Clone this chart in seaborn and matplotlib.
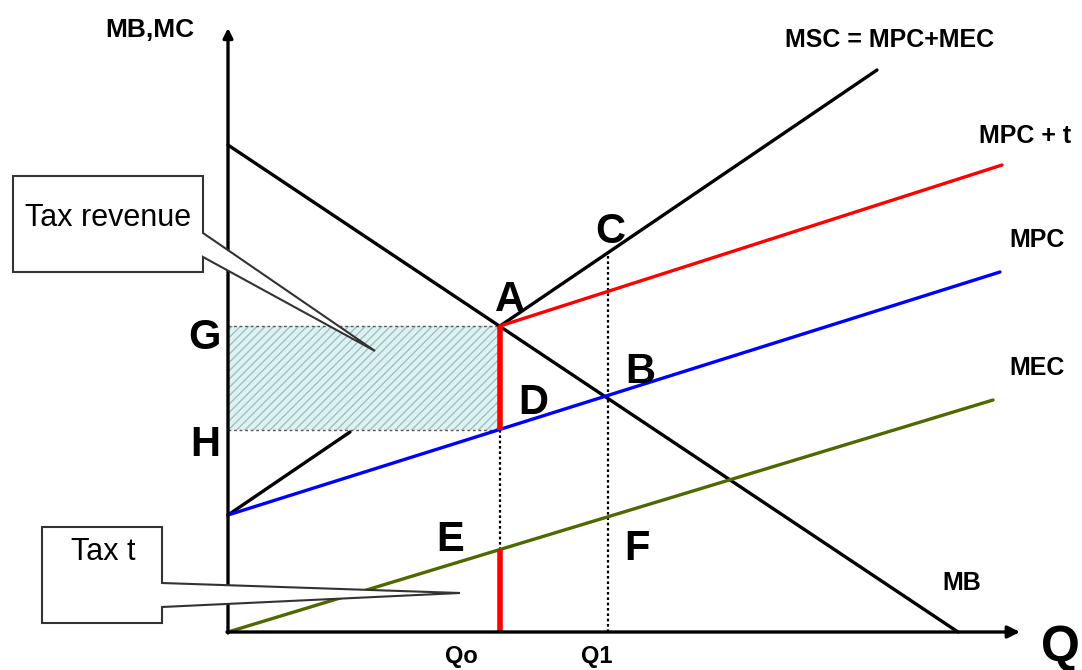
import numpy as np
import pandas as pd
import matplotlib
matplotlib.use('Agg')
import matplotlib.pyplot as plt
from matplotlib.patches import Polygon
import seaborn as sns

# curve end points (units = screen pixels from origin)
mb_q, mb_p = [0, 730], [487, 0]
mpc_q, mpc_p = [0, 772], [117, 360]
mec_q, mec_p = [0, 765], [0, 232]
msc_q, msc_p = [272, 649], [306, 562]
mpct_q, mpct_p = [272, 774], [306, 467]
taxline_q, taxline_p = [0, 122], [117, 200]

q0, q1 = 272, 380
p_G, p_H = 306, 202          # A and D heights
p_E = 83
p_C = 378

point_labels = ['A', 'B', 'C', 'D', 'E', 'F', 'G', 'H']
point_q = [282, 412, 382, 305, 222, 409, -23, -23]
point_p = [332, 260, 400, 229, 92, 83, 294, 187]

curve_labels = ['MSC = MPC+MEC', 'MPC + t', 'MPC', 'MEC', 'MB']
curve_lab_q = [662, 797, 809, 809, 734]
curve_lab_p = [592, 496, 392, 264, 49]

sns.set_style('white')
plt.rcParams['font.family'] = ['Liberation Sans', 'DejaVu Sans']
plt.rcParams['text.color'] = 'black'

fig = plt.figure(figsize=(10.82, 6.70), dpi=100)
ax = fig.add_axes([0, 0, 1, 1])
ax.set_xlim(-228, 854)
ax.set_ylim(-38, 632)
ax.axis('off')

lines = pd.concat([
    pd.DataFrame({'q': mb_q, 'p': mb_p, 'curve': 'MB'}),
    pd.DataFrame({'q': msc_q, 'p': msc_p, 'curve': 'MSC'}),
    pd.DataFrame({'q': taxline_q, 'p': taxline_p, 'curve': 'tax'}),
    pd.DataFrame({'q': mpc_q, 'p': mpc_p, 'curve': 'MPC'}),
    pd.DataFrame({'q': mpct_q, 'p': mpct_p, 'curve': 'MPC+t'}),
    pd.DataFrame({'q': mec_q, 'p': mec_p, 'curve': 'MEC'}),
])
pal = {'MB': 'black', 'MSC': 'black', 'tax': 'black', 'MPC': '#0000ff',
       'MPC+t': '#ff0000', 'MEC': '#4d6a00'}

# hatched tax revenue area
ax.fill_between([0, q0], p_H, p_G, facecolor='#dcf3f3', edgecolor='#a8bcbc',
                hatch='////', linewidth=0, zorder=1)

# guide lines
ax.plot([0, q0], [p_G, p_G], ls=(0, (2, 2)), color='#555555', lw=1, zorder=2)
ax.plot([0, q0], [p_H, p_H], ls=(0, (2, 2)), color='#555555', lw=1, zorder=2)
ax.plot([q0, q0], [p_H, p_E], ls=(0, (1.2, 1.2)), color='black', lw=1.6, zorder=2)
ax.plot([q1, q1], [0, p_C], ls=(0, (1.2, 1.2)), color='black', lw=1.6, zorder=2)

sns.lineplot(data=lines, x='q', y='p', hue='curve', palette=pal, units='curve',
             estimator=None, legend=False, linewidth=2.4, ax=ax, zorder=3)

# tax t shown as red vertical bars
ax.plot([q0, q0], [p_H, p_G], color='#ff0000', lw=4, zorder=4, solid_capstyle='butt')
ax.plot([q0, q0], [0, p_E], color='#ff0000', lw=4, zorder=4, solid_capstyle='butt')

# axes with arrows
ax.annotate('', xy=(792, 0), xytext=(-1, 0),
            arrowprops=dict(arrowstyle='-|>', lw=2.4, color='black',
                            mutation_scale=18, shrinkA=0, shrinkB=0), zorder=5)
ax.annotate('', xy=(0, 604), xytext=(0, -1),
            arrowprops=dict(arrowstyle='-|>', lw=2.4, color='black',
                            mutation_scale=14, shrinkA=0, shrinkB=0), zorder=5)

for lab, x, y in zip(point_labels, point_q, point_p):
    ax.text(x, y, lab, fontsize=30, fontweight='bold', ha='center', va='center')
for lab, x, y in zip(curve_labels, curve_lab_q, curve_lab_p):
    ax.text(x, y, lab, fontsize=18, fontweight='bold', ha='center', va='center')

ax.text(-78, 602, 'MB,MC', fontsize=19, fontweight='bold', ha='center', va='center')
ax.text(q0 - 39, -25, 'Qo', fontsize=17, fontweight='bold', ha='center', va='center')
ax.text(q1 - 11, -25, 'Q1', fontsize=17, fontweight='bold', ha='center', va='center')
ax.text(832, -16, 'Q', fontsize=36, fontweight='bold', ha='center', va='center')

# callout boxes
rev_box = [(-215, 456), (-25, 456), (-25, 399), (147, 281), (-25, 375),
           (-25, 360), (-215, 360)]
ax.add_patch(Polygon(rev_box, closed=True, facecolor='white', edgecolor='#333333',
                     lw=1.5, zorder=6))
ax.text(-120, 414, 'Tax revenue', fontsize=22, ha='center', va='center', zorder=7)

tax_box = [(-186, 105), (-66, 105), (-66, 49), (232, 39), (-66, 25),
           (-66, 9), (-186, 9)]
ax.add_patch(Polygon(tax_box, closed=True, facecolor='white', edgecolor='#333333',
                     lw=1.5, zorder=6))
ax.text(-125, 80, 'Tax t', fontsize=22, ha='center', va='center', zorder=7)

fig.savefig('out.png', dpi=100)
